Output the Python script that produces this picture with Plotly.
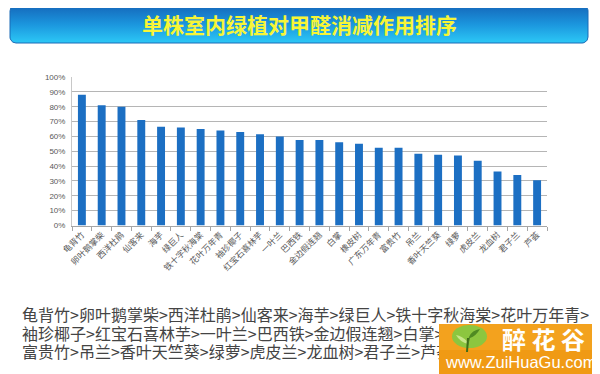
import numpy as np
import plotly.graph_objects as go

# ---------------- data ----------------
title_text = "单株室内绿植对甲醛消减作用排序"
categories = ["龟背竹", "卵叶鹅掌柴", "西洋杜鹃", "仙客来", "海芋", "绿巨人",
              "铁十字秋海棠", "花叶万年青", "袖珍椰子", "红宝石喜林芋", "一叶兰", "巴西铁",
              "金边假连翘", "白掌", "橡皮树", "广东万年青", "富贵竹", "吊兰",
              "香叶天竺葵", "绿萝", "虎皮兰", "龙血树", "君子兰", "芦荟"]
values = [0.88, 0.81, 0.80, 0.71, 0.665, 0.66, 0.65, 0.64, 0.63, 0.615, 0.60, 0.575,
          0.575, 0.56, 0.55, 0.523, 0.523, 0.484, 0.476, 0.471, 0.436, 0.364, 0.34, 0.304]
y_tick_values = [0, 0.1, 0.2, 0.3, 0.4, 0.5, 0.6, 0.7, 0.8, 0.9, 1.0]
y_tick_labels = ["0%", "10%", "20%", "30%", "40%", "50%", "60%", "70%", "80%", "90%", "100%"]
ranking_lines = [
    "龟背竹>卵叶鹅掌柴>西洋杜鹃>仙客来>海芋>绿巨人>铁十字秋海棠>花叶万年青>",
    "袖珍椰子>红宝石喜林芋>一叶兰>巴西铁>金边假连翘>白掌>橡皮树>广东万年青>",
    "富贵竹>吊兰>香叶天竺葵>绿萝>虎皮兰>龙血树>君子兰>芦荟",
]
logo_name = "醉 花 谷"
logo_url = "www.ZuiHuaGu.com"

# page has an 8px body margin: the figure is drawn at (8, 8) in the window
OFF = 8
WIN_W, WIN_H = 600, 374
W, H = WIN_W - OFF, WIN_H - OFF
CJK = "Noto Sans CJK SC"

def dom_x(a, b):
    return [(a - OFF) / W, (b - OFF) / W]

def dom_y(top, bottom):
    return [1 - (bottom - OFF) / H, 1 - (top - OFF) / H]

def rounded_rect(x0, y0, x1, y1, r, n=10):
    xs, ys = [], []
    for cx, cy, a0 in [(x0 + r, y0 + r, 180), (x1 - r, y0 + r, 270),
                       (x1 - r, y1 - r, 0), (x0 + r, y1 - r, 90)]:
        for a in np.linspace(a0, a0 + 90, n):
            t = np.radians(a)
            xs.append(cx + r * np.cos(t))
            ys.append(cy + r * np.sin(t))
    xs.append(xs[0]); ys.append(ys[0])
    return xs, ys

fig = go.Figure()

# bars
fig.add_trace(go.Bar(x=categories, y=values, marker=dict(color="#1c6fc3", line=dict(width=0)),
                     hoverinfo="skip", showlegend=False))

# title banner (overlay axes in window pixel coordinates)
bx, by = rounded_rect(10, 5, 588, 43, 6)
fig.add_trace(go.Scatter(
    x=bx, y=by, mode="lines", fill="toself",
    fillgradient=dict(type="vertical",
                      colorscale=[[0, "#1567ba"], [0.5, "#1b95dd"], [1, "#2cc8f6"]],
                      start=5, stop=43),
    line=dict(color="#1a6ab6", width=1),
    xaxis="x2", yaxis="y2", hoverinfo="skip", showlegend=False))

# ranking text lines
fig.add_trace(go.Scatter(
    x=[22, 22, 22], y=[317, 335.5, 354], text=ranking_lines, mode="text",
    textposition="middle right",
    textfont=dict(family=CJK, size=16, color="#444444"),
    xaxis="x2", yaxis="y2", cliponaxis=False, hoverinfo="skip", showlegend=False))

fig.update_layout(
    width=W, height=H,
    margin=dict(l=0, r=0, t=0, b=0, pad=0),
    paper_bgcolor="white", plot_bgcolor="rgba(0,0,0,0)",
    bargap=0.6,
    xaxis=dict(domain=dom_x(72, 547), anchor="y", type="category",
               range=[-0.5, len(categories) - 0.5], automargin=False,
               tickangle=-45, tickfont=dict(family=CJK, size=8.5, color="#595959"),
               showline=True, linecolor="#a6a6a6", linewidth=1,
               ticks="outside", tickson="boundaries", ticklen=4, tickcolor="#a6a6a6",
               showgrid=False, fixedrange=True),
    yaxis=dict(domain=dom_y(77, 225.5), anchor="x", range=[0, 1.0],
               automargin=False,
               tickvals=y_tick_values, ticktext=y_tick_labels,
               tickfont=dict(family="Liberation Sans", size=8, color="#595959"),
               showgrid=True, gridcolor="#b5b5b5", gridwidth=1,
               zeroline=False, showline=True, linecolor="#c8c8c8",
               ticks="", ticklabelstandoff=4, fixedrange=True),
    xaxis2=dict(domain=[0, 1], range=[OFF, WIN_W], anchor="y2", visible=False,
                automargin=False, fixedrange=True),
    yaxis2=dict(domain=[0, 1], range=[WIN_H, OFF], anchor="x2", visible=False,
                automargin=False, fixedrange=True),
    shapes=[
        dict(type="rect", xref="x2", yref="y2", x0=439, x1=600, y0=324, y1=374,
             fillcolor="#f3a21e", line=dict(width=0), layer="above"),
        dict(type="rect", xref="x2", yref="y2", x0=439, x1=600, y0=350, y1=374,
             fillcolor="#f09a14", line=dict(width=0), layer="above"),
        dict(type="circle", xref="x2", yref="y2", x0=452, x1=487, y0=325, y1=348,
             fillcolor="#8cc63f", line=dict(width=0), layer="above"),
        dict(type="path", xref="x2", yref="y2",
             path="M 467 350 L 469 337 Q 472 330 480 329 Q 476 336 470 338 Z",
             fillcolor="#4f8a22", line=dict(width=0), layer="above"),
        dict(type="path", xref="x2", yref="y2",
             path="M 468 342 Q 462 336 456 335 Q 460 342 468 344 Z",
             fillcolor="#c8e68a", line=dict(width=0), layer="above"),
        dict(type="line", xref="x2", yref="y2", x0=468, x1=467, y0=338, y1=352,
             line=dict(color="#3f6d1a", width=2), layer="above"),
    ],
    annotations=[
        dict(text=title_text, xref="x2", yref="y2", x=299, y=24,
             xanchor="center", yanchor="middle", showarrow=False,
             font=dict(family=CJK, size=21, color="#f7f536", weight="bold")),
        dict(text=logo_name, xref="x2", yref="y2", x=543, y=338,
             xanchor="center", yanchor="middle", showarrow=False,
             font=dict(family=CJK, size=24, color="white", weight="bold")),
        dict(text=logo_url, xref="x2", yref="y2", x=520, y=362,
             xanchor="center", yanchor="middle", showarrow=False,
             font=dict(family="Liberation Sans", size=16.5, color="white")),
    ],
)

fig.write_html("out.html")
